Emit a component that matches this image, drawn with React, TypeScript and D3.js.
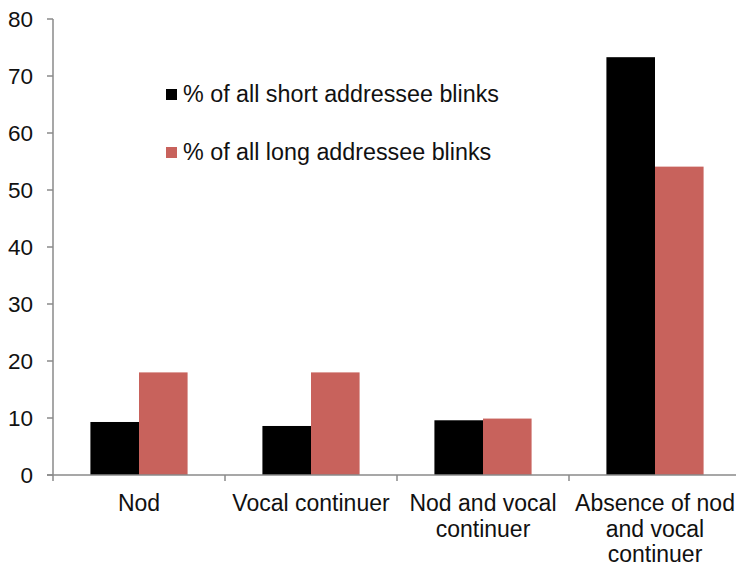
import React from "react";
import * as d3 from "d3";

const categories: string[][] = [
  ["Nod"],
  ["Vocal continuer"],
  ["Nod and vocal", "continuer"],
  ["Absence of nod", "and vocal", "continuer"],
];
const seriesNames = ["% of all short addressee blinks", "% of all long addressee blinks"];
const shortBlinks = [9.3, 8.6, 9.6, 73.3];
const longBlinks = [18, 18, 9.9, 54.1];
const seriesColors = ["#000000", "#c8625c"];
const yTicks = [0, 10, 20, 30, 40, 50, 60, 70, 80];

const W = 736;
const H = 567;
const FONT = "'Liberation Sans', Arial, sans-serif";

export default function App() {
  const keys = categories.map((c) => c.join(" "));
  const x = d3.scaleBand<string>().domain(keys).range([53, 741]).padding(0);
  const xs = d3
    .scaleBand<number>()
    .domain([0, 1])
    .range([0, x.bandwidth()])
    .paddingInner(0)
    .paddingOuter(0.77);
  const y = d3.scaleLinear().domain([0, 80]).range([475, 19]);
  const series = [shortBlinks, longBlinks];
  const axisColor = "#8a8a8a";

  return (
    <svg
      width={W}
      height={H}
      style={{ position: "absolute", left: 0, top: 0, background: "#fff" }}
      fontFamily={FONT}
    >
      {/* bars */}
      {keys.map((k, i) =>
        series.map((s, j) => (
          <rect
            key={k + j}
            x={(x(k) as number) + (xs(j) as number)}
            y={y(s[i])}
            width={xs.bandwidth()}
            height={y(0) - y(s[i])}
            fill={seriesColors[j]}
          />
        ))
      )}
      {/* y axis */}
      <line x1={53} x2={53} y1={y(80)} y2={y(0)} stroke={axisColor} strokeWidth={1.5} />
      {yTicks.map((t) => (
        <g key={t}>
          <line x1={47} x2={53} y1={y(t)} y2={y(t)} stroke={axisColor} strokeWidth={1.5} />
          <text x={33} y={y(t)} dy="0.36em" textAnchor="end" fontSize={22.5} fill="#111">
            {t}
          </text>
        </g>
      ))}
      {/* x axis */}
      <line x1={47} x2={W} y1={y(0)} y2={y(0)} stroke={axisColor} strokeWidth={1.5} />
      {keys.map((k) => (
        <line
          key={"t" + k}
          x1={x(k) as number}
          x2={x(k) as number}
          y1={y(0)}
          y2={y(0) + 6}
          stroke={axisColor}
          strokeWidth={1.5}
        />
      ))}
      {categories.map((lines, i) => (
        <text
          key={"l" + i}
          x={(x(keys[i]) as number) + x.bandwidth() / 2}
          textAnchor="middle"
          fontSize={23}
          fill="#111"
        >
          {lines.map((ln, li) => (
            <tspan key={li} x={(x(keys[i]) as number) + x.bandwidth() / 2} y={511 + li * 25.5}>
              {ln}
            </tspan>
          ))}
        </text>
      ))}
      {/* legend */}
      {seriesNames.map((n, j) => (
        <g key={n} transform={`translate(166,${102 + j * 58})`}>
          <rect x={0} y={-13} width={11} height={11} fill={seriesColors[j]} />
          <text x={17} y={0} fontSize={23.3} fill="#111">
            {n}
          </text>
        </g>
      ))}
    </svg>
  );
}
